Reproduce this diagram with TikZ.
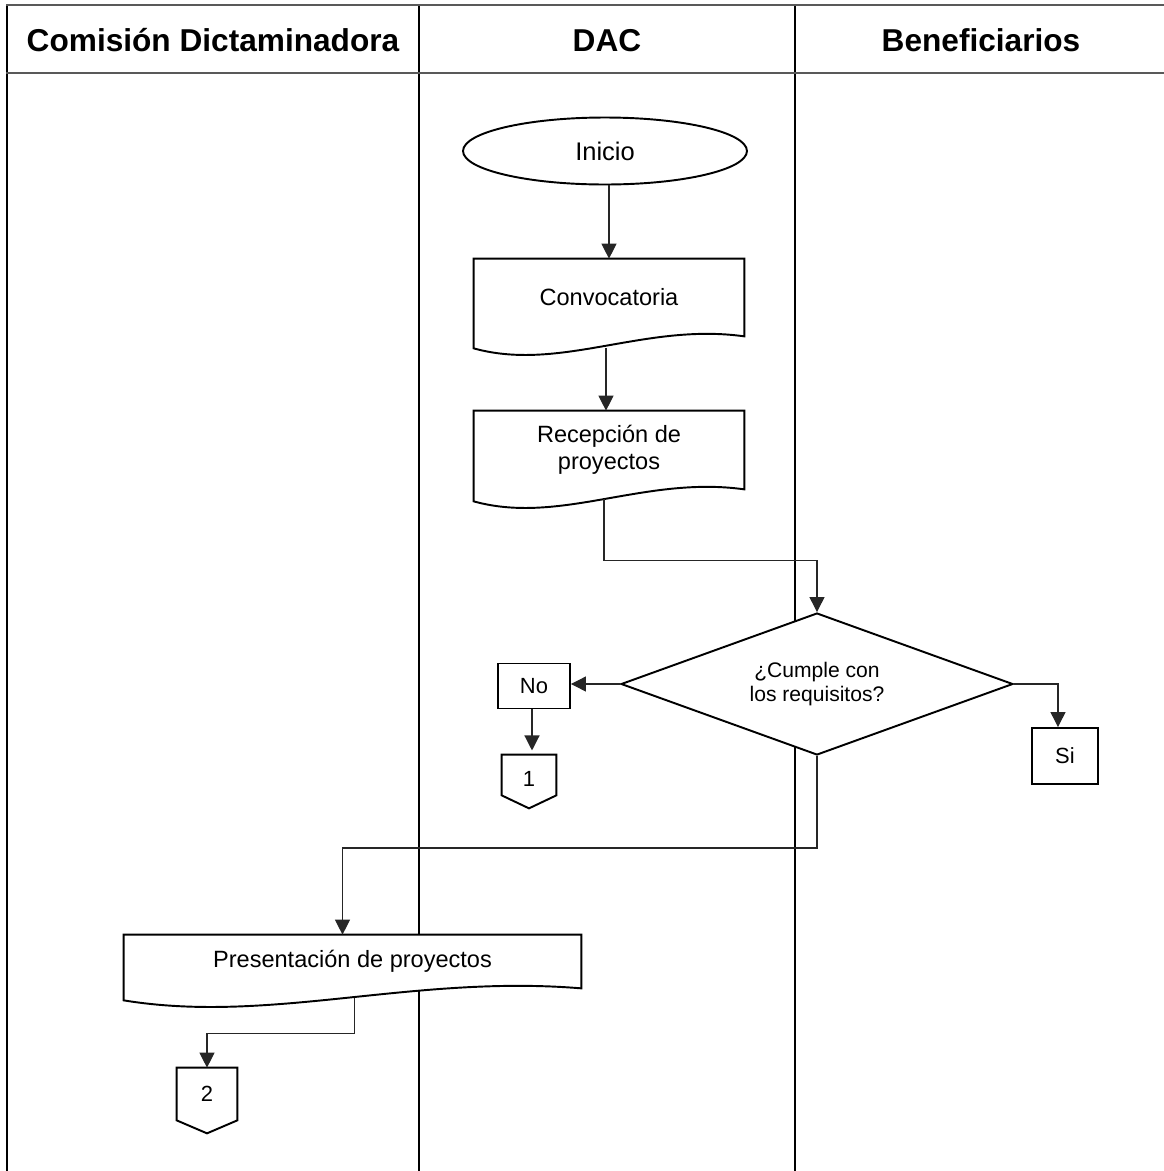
\documentclass[tikz,border=0pt]{standalone}
\usepackage{fontspec}
\setmainfont{Liberation Sans}
\usetikzlibrary{shapes.geometric,arrows.meta,calc}

% document symbol: straight top and sides, wavy bottom
\newcommand{\drawdoc}[1]{%
  \draw[box,fill=white] ($(#1.south west)+(0,12)$)
    .. controls ($(#1.south west)!0.32!(#1.south east)+(0,36)$)
    and ($(#1.south west)!0.63!(#1.south east)+(0,-14)$) .. (#1.south east)
    -- (#1.north east) -- (#1.north west) -- cycle;}
% off-page connector pointing down
\newcommand{\drawoffpage}[1]{%
  \draw[box,fill=white] (#1.north west) -- (#1.south west) -- ($(#1.south)+(0,13)$)
    -- (#1.south east) -- (#1.north east) -- cycle;}

\begin{document}
\begin{tikzpicture}
      [
      x=0.02cm, y=-0.02cm,
      box/.style={draw=black,line width=1.1pt},
      lane/.style={draw=black,line width=0.8pt},
      headline/.style={draw=black!65,line width=1.6pt},
      header/.style={font=\fontsize{18}{21}\selectfont\bfseries,anchor=base},
      txt/.style={font=\fontsize{13.4}{15.4}\selectfont,align=center,inner sep=0pt},
      small/.style={font=\fontsize{12}{13.7}\selectfont,align=center,inner sep=0pt},
      terminal/.style={ellipse,box,fill=white,txt,minimum width=5.68cm,minimum height=1.34cm},
      doc/.style={rectangle,txt,minimum width=5.4cm},
      decision/.style={diamond,box,fill=white,small,aspect=2.76,minimum width=7.84cm,minimum height=2.84cm},
      answer/.style={rectangle,box,fill=white,small,font=\fontsize{12.5}{14}\selectfont},
      offpage/.style={rectangle,small,font=\fontsize{12.5}{14}\selectfont},
      flow/.style={draw=black!85,line width=0.7pt,-{Triangle[width=3mm,length=3mm]}}
      ]
      \useasboundingbox (0,0) rectangle (1164,1171);
      % swimlanes
      \draw[lane] (7,5) -- (7,1171);
      \draw[lane] (419,5) -- (419,1171);
      \draw[lane] (795,5) -- (795,1171);
      \draw[headline] (6,5) -- (1164,5);
      \draw[headline] (6,73) -- (1164,73);
      \node (hCom) at (213,51) [header] {Comisión Dictaminadora};
      \node (hDAC) at (607,51) [header] {DAC};
      \node (hBen) at (981,51) [header] {Beneficiarios};

      % nodes
      \node (inicio) at (605,151) [terminal, font=\fontsize{14.5}{16}\selectfont] {Inicio};
      \node (conv) at (609,297.5) [doc, minimum height=1.54cm] {};
      \node (recep) at (609,450) [doc, minimum height=1.56cm] {};
      \node (pres) at (352.5,961.5) [doc, minimum width=9.14cm, minimum height=1.06cm] {};
      \drawdoc{conv}
      \drawdoc{recep}
      \drawdoc{pres}
      \node at (conv) [txt] {Convocatoria};
      \node at (recep) [txt] {Recepción de\\proyectos};
      \node at (pres) [txt] {Presentación de proyectos};
      \node (cumple) at (817,684) [decision] {¿Cumple con\\los requisitos?};
      \node (no) at (534,686) [answer, minimum width=1.44cm, minimum height=0.9cm] {No};
      \node (si) at (1065,756) [answer, minimum width=1.32cm, minimum height=1.12cm] {Si};
      \node (c1) at (529,775) [offpage, minimum width=1.08cm, minimum height=0.8cm] {};
      \node (c2) at (207,1094) [offpage, minimum width=1.2cm, minimum height=1.04cm] {};
      \drawoffpage{c1}
      \drawoffpage{c2}
      \node at ($(c1)+(0,4)$) [offpage] {1};
      \node at (c2) [offpage] {2};

      % connectors
      \draw[flow] (inicio.south -| conv.north) -- (conv.north);
      \draw[flow] ($(conv.south)+(-3,12)$) -- ($(recep.north)+(-3,0)$);
      \draw[flow] ($(recep.south)+(-5,10)$) -- ++(0,61) -| (cumple.north);
      \draw[flow] (cumple.west) -- (cumple.west -| no.east);
      \draw[flow] ($(no.south)+(-2,0)$) -- ++(0,41);
      \draw[flow] (cumple.east) -| ($(si.north)+(-7,0)$);
      \draw[flow] (cumple.south) -- ++(0,92) -| ($(pres.north)+(-10,0)$);
      \draw[flow] ($(pres.south)+(2,10)$) -- ++(0,35) -| (c2.north);
    \end{tikzpicture}
\end{document}
